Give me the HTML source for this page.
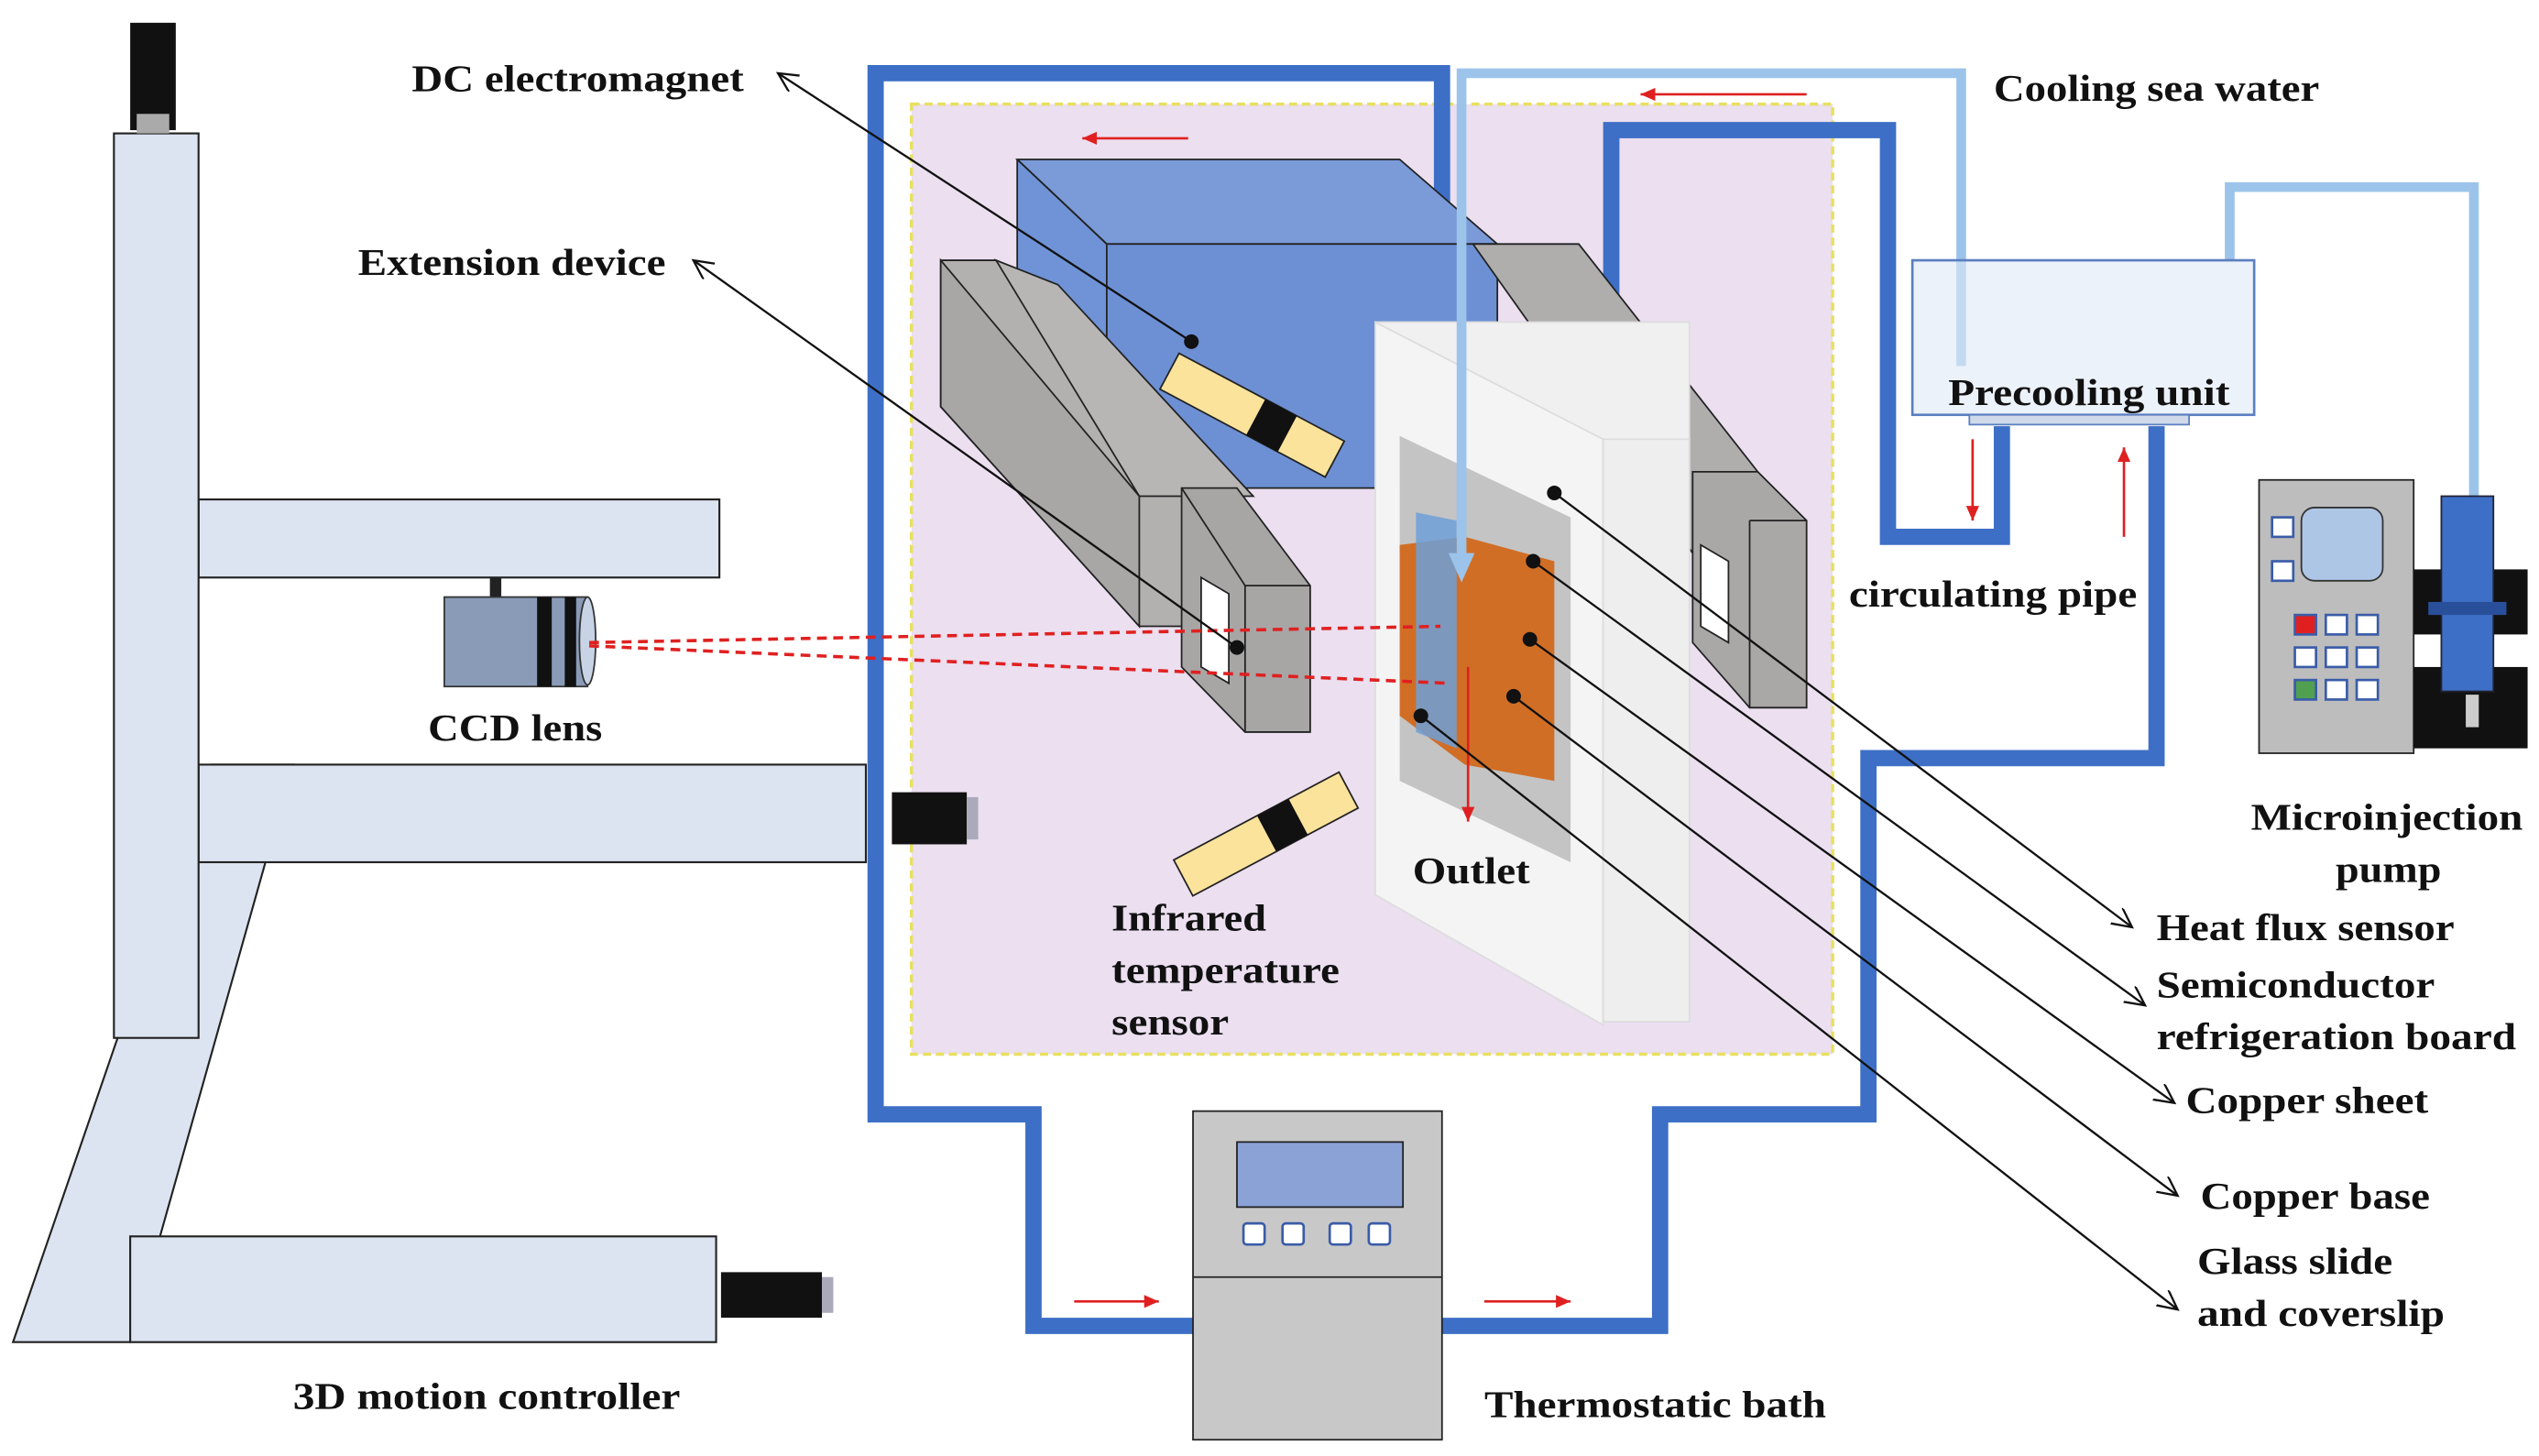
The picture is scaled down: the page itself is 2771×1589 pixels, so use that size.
<!DOCTYPE html>
<html><head><meta charset="utf-8"><style>
html,body{margin:0;padding:0;background:#fff;}
svg{display:block;}
text{font-family:"Liberation Serif",serif;font-weight:bold;font-size:23px;fill:#111;}
</style></head><body>
<svg width="2771" height="1589" viewBox="0 0 1560 895" preserveAspectRatio="none" xmlns="http://www.w3.org/2000/svg">
<defs>
<marker id="oa" markerWidth="14" markerHeight="14" refX="12" refY="6" orient="auto" markerUnits="userSpaceOnUse"><path d="M0,0 L12,6 L0,12" fill="none" stroke="#111" stroke-width="1.3"/></marker>
<marker id="ra" markerWidth="10" markerHeight="10" refX="9" refY="4" orient="auto" markerUnits="userSpaceOnUse"><path d="M0,0 L9,4 L0,8 z" fill="#e02020"/></marker>
</defs>
<g fill="#dde4f1" stroke="#222" stroke-width="1.2">
<polygon points="130,470 180,470 80,825 8,825"/>
<rect x="80" y="760" width="360" height="65"/>
<rect x="122" y="470" width="410" height="60"/>
<rect x="122" y="307" width="320" height="48"/>
<rect x="70" y="82" width="52" height="556"/>
</g>
<rect x="80" y="14" width="28" height="66" fill="#111"/>
<rect x="84" y="70" width="20" height="12" fill="#aaa"/>
<rect x="443" y="782" width="62" height="28" fill="#111"/><rect x="505" y="785" width="7" height="22" fill="#aab"/>
<rect x="301" y="355" width="7" height="12" fill="#222"/>
<rect x="273" y="367" width="88" height="55" fill="#8a9bb8" stroke="#333"/>
<rect x="330" y="367" width="9" height="55" fill="#111"/><rect x="347" y="367" width="7" height="55" fill="#111"/>
<ellipse cx="361" cy="394" rx="5" ry="27" fill="#c9d3e6" stroke="#333"/>
<rect x="560" y="64" width="566" height="584" fill="#ebdff0" stroke="#e8e060" stroke-width="2" stroke-dasharray="5,3"/>
<g fill="none" stroke="#3d6fc6" stroke-width="10">
<polyline points="886,200 886,45 538,45 538,685 635,685 635,815 735,815"/>
<polyline points="886,815 1020,815 1020,685 1148,685 1148,466 1325,466 1325,262"/>
<polyline points="990,270 990,80 1160,80 1160,330 1230,330 1230,262"/>
</g>
<polygon points="625,98 860,98 920,150 920,300 680,300 625,250" fill="#6f93d6"/>
<polygon points="625,98 860,98 920,150 680,150" fill="#7a9ad8" stroke="#222"/>
<rect x="680" y="150" width="240" height="150" fill="#6d90d4" stroke="#222"/>
<line x1="625" y1="98" x2="625" y2="250" stroke="#222"/><line x1="625" y1="98" x2="680" y2="150" stroke="#222"/>
<polygon points="905,150 970,150 1080,290 1080,335 1040,340" fill="#b0adad" stroke="#222"/>
<polygon points="1040,290 1080,290 1110,320 1110,435 1075,435 1040,395" fill="#aaa7a7" stroke="#222"/>
<line x1="1075" y1="320" x2="1075" y2="435" stroke="#222"/><line x1="1075" y1="320" x2="1110" y2="320" stroke="#222"/>
<polygon points="1045,335 1062,345 1062,395 1045,385" fill="#fff" stroke="#222"/>
<polygon points="578,160 612,160 770,330 770,385 700,385 578,250" fill="#b3b0b0" stroke="#222"/>
<polygon points="578,160 700,305 700,385 578,250" fill="#a9a6a6" stroke="#222"/>
<polygon points="612,160 700,305 770,305 650,175" fill="#b8b5b5" stroke="#222"/>
<polygon points="726,300 760,300 805,360 805,450 765,450 726,410" fill="#a8a5a5" stroke="#222"/>
<line x1="726" y1="300" x2="765" y2="360" stroke="#222"/><line x1="765" y1="360" x2="805" y2="360" stroke="#222"/><line x1="765" y1="360" x2="765" y2="450" stroke="#222"/>
<polygon points="738,355 755,365 755,420 738,410" fill="#fff" stroke="#222"/>
<polygon points="845,198 985,270 985,630 845,550" fill="#f4f4f4" stroke="#ddd"/>
<polygon points="845,198 1038,198 1038,628 985,628 985,270" fill="#f0f0f0" stroke="#ddd"/>
<rect x="985" y="270" width="53" height="358" fill="#eee" stroke="#ddd"/>
<polygon points="860,268 965,318 965,530 860,480" fill="#c4c4c4"/>
<polygon points="860,335 900,330 955,345 955,480 900,470 860,440" fill="#d2691e" opacity="0.95"/>
<polygon points="870,315 895,320 895,460 870,450" fill="#6fa0d8" opacity="0.85"/>
<g fill="none" stroke="#9cc4ea" stroke-width="6">
<polyline points="898,345 898,45 1205,45 1205,225"/>
<polyline points="1370,160 1370,115 1520,115 1520,305"/>
</g>
<polygon points="890,340 906,340 898,358" fill="#9cc4ea"/>
<rect x="1175" y="160" width="210" height="95" fill="#dfe9f6" fill-opacity="0.6" stroke="#5b7fc0" stroke-width="1.5"/>
<rect x="1210" y="255" width="135" height="6" fill="#cfd9ea" stroke="#5b7fc0"/>
<g stroke="#e02020" stroke-width="1.5" marker-end="url(#ra)">
<line x1="730" y1="85" x2="665" y2="85"/>
<line x1="1110" y1="58" x2="1008" y2="58"/>
<line x1="1212" y1="270" x2="1212" y2="320"/>
<line x1="1305" y1="330" x2="1305" y2="275"/>
<line x1="660" y1="800" x2="712" y2="800"/>
<line x1="912" y1="800" x2="965" y2="800"/>
<line x1="902" y1="410" x2="902" y2="505"/>
</g>
<g stroke="#e02020" stroke-width="2" stroke-dasharray="6,4">
<line x1="362" y1="395" x2="885" y2="385"/>
<line x1="362" y1="397" x2="890" y2="420"/>
</g>
<g transform="rotate(28 770 255)"><rect x="712" y="243" width="115" height="25" fill="#fbe39c" stroke="#222"/><rect x="772" y="243" width="22" height="25" fill="#111"/></g>
<g transform="rotate(-28 778 512)"><rect x="720" y="500" width="115" height="25" fill="#fbe39c" stroke="#222"/><rect x="778" y="500" width="22" height="25" fill="#111"/></g>
<rect x="548" y="487" width="46" height="32" fill="#111"/><rect x="594" y="490" width="7" height="26" fill="#aab"/>
<rect x="733" y="683" width="153" height="202" fill="#c8c8c8" stroke="#222"/>
<line x1="733" y1="785" x2="886" y2="785" stroke="#222"/>
<rect x="760" y="702" width="102" height="40" fill="#8aa2d6" stroke="#222"/>
<g fill="#fff" stroke="#3a5ca8" stroke-width="1.5"><rect x="764" y="752" width="13" height="13" rx="2"/><rect x="788" y="752" width="13" height="13" rx="2"/><rect x="817" y="752" width="13" height="13" rx="2"/><rect x="841" y="752" width="13" height="13" rx="2"/></g>
<rect x="1388" y="295" width="95" height="168" fill="#bdbdbd" stroke="#222"/>
<rect x="1414" y="312" width="50" height="45" rx="8" fill="#aec6e6" stroke="#333"/>
<g stroke="#3a5ca8" stroke-width="1.5" fill="#fff">
<rect x="1396" y="318" width="13" height="12"/><rect x="1396" y="345" width="13" height="12"/>
<rect x="1410" y="378" width="13" height="12" fill="#e02020"/><rect x="1429" y="378" width="13" height="12"/><rect x="1448" y="378" width="13" height="12"/>
<rect x="1410" y="398" width="13" height="12"/><rect x="1429" y="398" width="13" height="12"/><rect x="1448" y="398" width="13" height="12"/>
<rect x="1410" y="418" width="13" height="12" fill="#50a050"/><rect x="1429" y="418" width="13" height="12"/><rect x="1448" y="418" width="13" height="12"/>
</g>
<rect x="1483" y="350" width="70" height="40" fill="#111"/><rect x="1483" y="410" width="70" height="50" fill="#111"/>
<rect x="1490" y="393" width="60" height="14" fill="#fff"/><rect x="1515" y="427" width="8" height="20" fill="#ccc"/>
<rect x="1500" y="305" width="32" height="120" fill="#3d6fc6" stroke="#223"/>
<rect x="1492" y="370" width="48" height="8" fill="#2a4f9a"/>
<g stroke="#111" stroke-width="1.3" fill="none">
<line x1="732" y1="210" x2="478" y2="45" marker-end="url(#oa)"/>
<line x1="760" y1="398" x2="426" y2="160" marker-end="url(#oa)"/>
<line x1="955" y1="303" x2="1310" y2="570" marker-end="url(#oa)"/>
<line x1="942" y1="345" x2="1318" y2="618" marker-end="url(#oa)"/>
<line x1="940" y1="393" x2="1336" y2="678" marker-end="url(#oa)"/>
<line x1="930" y1="428" x2="1338" y2="735" marker-end="url(#oa)"/>
<line x1="873" y1="440" x2="1338" y2="805" marker-end="url(#oa)"/>
</g>
<g fill="#111"><circle cx="732" cy="210" r="4.5"/><circle cx="760" cy="398" r="4.5"/><circle cx="955" cy="303" r="4.5"/><circle cx="942" cy="345" r="4.5"/><circle cx="940" cy="393" r="4.5"/><circle cx="930" cy="428" r="4.5"/><circle cx="873" cy="440" r="4.5"/></g>
<g lengthAdjust="spacingAndGlyphs">
<text x="253" y="56" textLength="204" lengthAdjust="spacingAndGlyphs">DC electromagnet</text>
<text x="220" y="169" textLength="189" lengthAdjust="spacingAndGlyphs">Extension device</text>
<text x="263" y="455" textLength="107" lengthAdjust="spacingAndGlyphs">CCD lens</text>
<text x="180" y="866" textLength="238" lengthAdjust="spacingAndGlyphs">3D motion controller</text>
<text x="683" y="572" textLength="95" lengthAdjust="spacingAndGlyphs">Infrared</text>
<text x="683" y="604" textLength="140" lengthAdjust="spacingAndGlyphs">temperature</text>
<text x="683" y="636" textLength="72" lengthAdjust="spacingAndGlyphs">sensor</text>
<text x="868" y="543" textLength="72" lengthAdjust="spacingAndGlyphs">Outlet</text>
<text x="912" y="871" textLength="210" lengthAdjust="spacingAndGlyphs">Thermostatic bath</text>
<text x="1225" y="62" textLength="200" lengthAdjust="spacingAndGlyphs">Cooling sea water</text>
<text x="1197" y="249" textLength="173" lengthAdjust="spacingAndGlyphs">Precooling unit</text>
<text x="1136" y="373" textLength="177" lengthAdjust="spacingAndGlyphs">circulating pipe</text>
<text x="1383" y="510" textLength="167" lengthAdjust="spacingAndGlyphs">Microinjection</text>
<text x="1435" y="542" textLength="65" lengthAdjust="spacingAndGlyphs">pump</text>
<text x="1325" y="578" textLength="183" lengthAdjust="spacingAndGlyphs">Heat flux sensor</text>
<text x="1325" y="613" textLength="171" lengthAdjust="spacingAndGlyphs">Semiconductor</text>
<text x="1325" y="645" textLength="221" lengthAdjust="spacingAndGlyphs">refrigeration board</text>
<text x="1343" y="684" textLength="149" lengthAdjust="spacingAndGlyphs">Copper sheet</text>
<text x="1352" y="743" textLength="141" lengthAdjust="spacingAndGlyphs">Copper base</text>
<text x="1350" y="783" textLength="120" lengthAdjust="spacingAndGlyphs">Glass slide</text>
<text x="1350" y="815" textLength="152" lengthAdjust="spacingAndGlyphs">and coverslip</text>
</g>
</svg>
</body></html>
